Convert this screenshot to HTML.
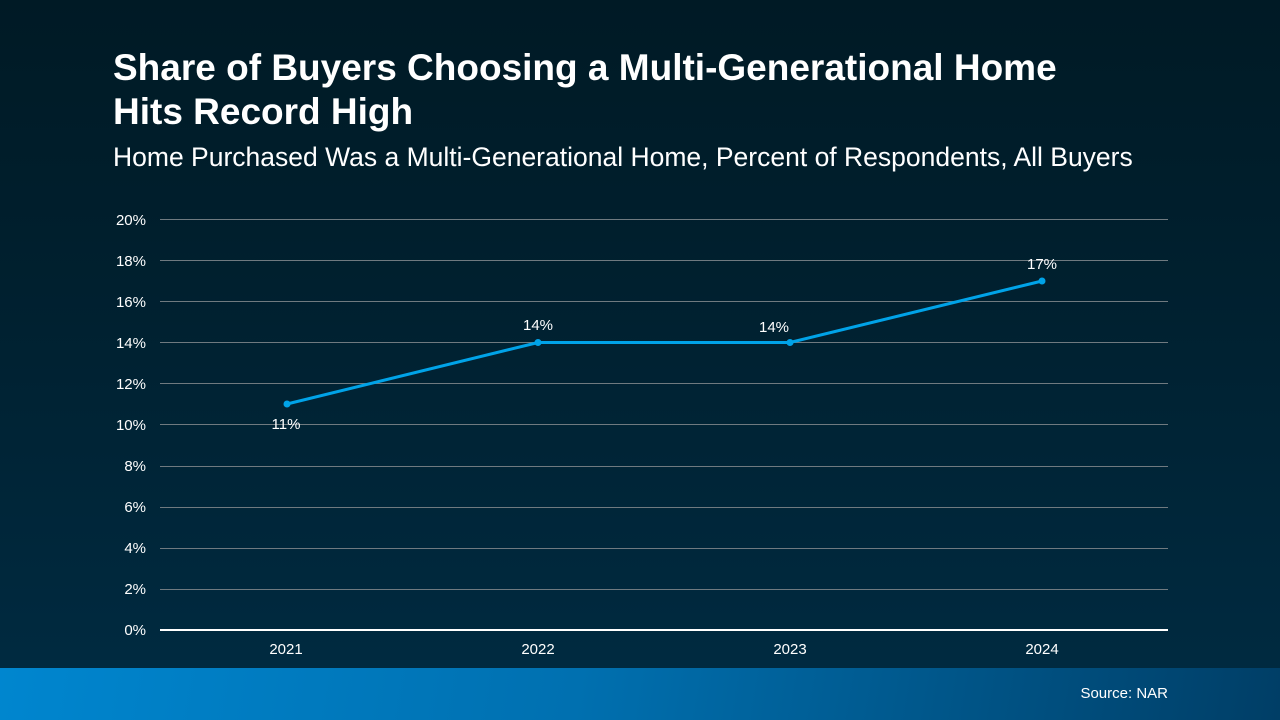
<!DOCTYPE html>
<html><head><meta charset="utf-8"><style>
html,body{margin:0;padding:0;}
body{width:1280px;height:720px;overflow:hidden;position:relative;font-family:"Liberation Sans",Arial,sans-serif;
background:linear-gradient(180deg,#001a25 0%,#00202f 40%,#002a40 92%);}
.bar{position:absolute;left:0;top:668px;width:1280px;height:52px;background:linear-gradient(100deg,#0086cf 0%,#0070b0 45%,#003e66 100%);}
.t{position:absolute;left:113px;top:46px;color:#fff;font-weight:bold;font-size:37px;line-height:44px;white-space:nowrap;}
.s{position:absolute;left:113px;top:142px;color:#fff;font-size:26.5px;white-space:nowrap;}
.src{position:absolute;right:112px;top:685px;color:#fff;font-size:15px;}
svg{position:absolute;left:0;top:0;}
</style></head><body>
<div class="t">Share of Buyers Choosing a Multi-Generational Home<br>Hits Record High</div>
<div class="s">Home Purchased Was a Multi-Generational Home, Percent of Respondents, All Buyers</div>
<svg width="1280" height="668" font-family="Liberation Sans, Arial, sans-serif" font-size="15" fill="#fff">
<g stroke="#6f7a80" stroke-width="1">
<line x1="160" x2="1168" y1="219.5" y2="219.5"/><line x1="160" x2="1168" y1="260.5" y2="260.5"/>
<line x1="160" x2="1168" y1="301.5" y2="301.5"/><line x1="160" x2="1168" y1="342.5" y2="342.5"/>
<line x1="160" x2="1168" y1="383.5" y2="383.5"/><line x1="160" x2="1168" y1="424.5" y2="424.5"/>
<line x1="160" x2="1168" y1="466.5" y2="466.5"/><line x1="160" x2="1168" y1="507.5" y2="507.5"/>
<line x1="160" x2="1168" y1="548.5" y2="548.5"/><line x1="160" x2="1168" y1="589.5" y2="589.5"/>
</g>
<line x1="160" x2="1168" y1="630" y2="630" stroke="#fff" stroke-width="2"/>
<g text-anchor="end">
<text x="146" y="225">20%</text><text x="146" y="266">18%</text><text x="146" y="307">16%</text>
<text x="146" y="348">14%</text><text x="146" y="389">12%</text><text x="146" y="430">10%</text>
<text x="146" y="471">8%</text><text x="146" y="512">6%</text><text x="146" y="553">4%</text>
<text x="146" y="594">2%</text><text x="146" y="635">0%</text>
</g>
<g text-anchor="middle">
<text x="286" y="654">2021</text><text x="538" y="654">2022</text><text x="790" y="654">2023</text><text x="1042" y="654">2024</text>
</g>
<polyline points="287,404 538,342.5 790,342.5 1042,281" fill="none" stroke="#00a3e8" stroke-width="3"/>
<g fill="#00a3e8"><circle cx="287" cy="404" r="3.5"/><circle cx="538" cy="342.5" r="3.5"/><circle cx="790" cy="342.5" r="3.5"/><circle cx="1042" cy="281" r="3.5"/></g>
<g text-anchor="middle">
<text x="286" y="429">11%</text><text x="538" y="330">14%</text><text x="774" y="332">14%</text><text x="1042" y="269">17%</text>
</g>
</svg>
<div class="bar"></div>
<div class="src">Source: NAR</div>
</body></html>
